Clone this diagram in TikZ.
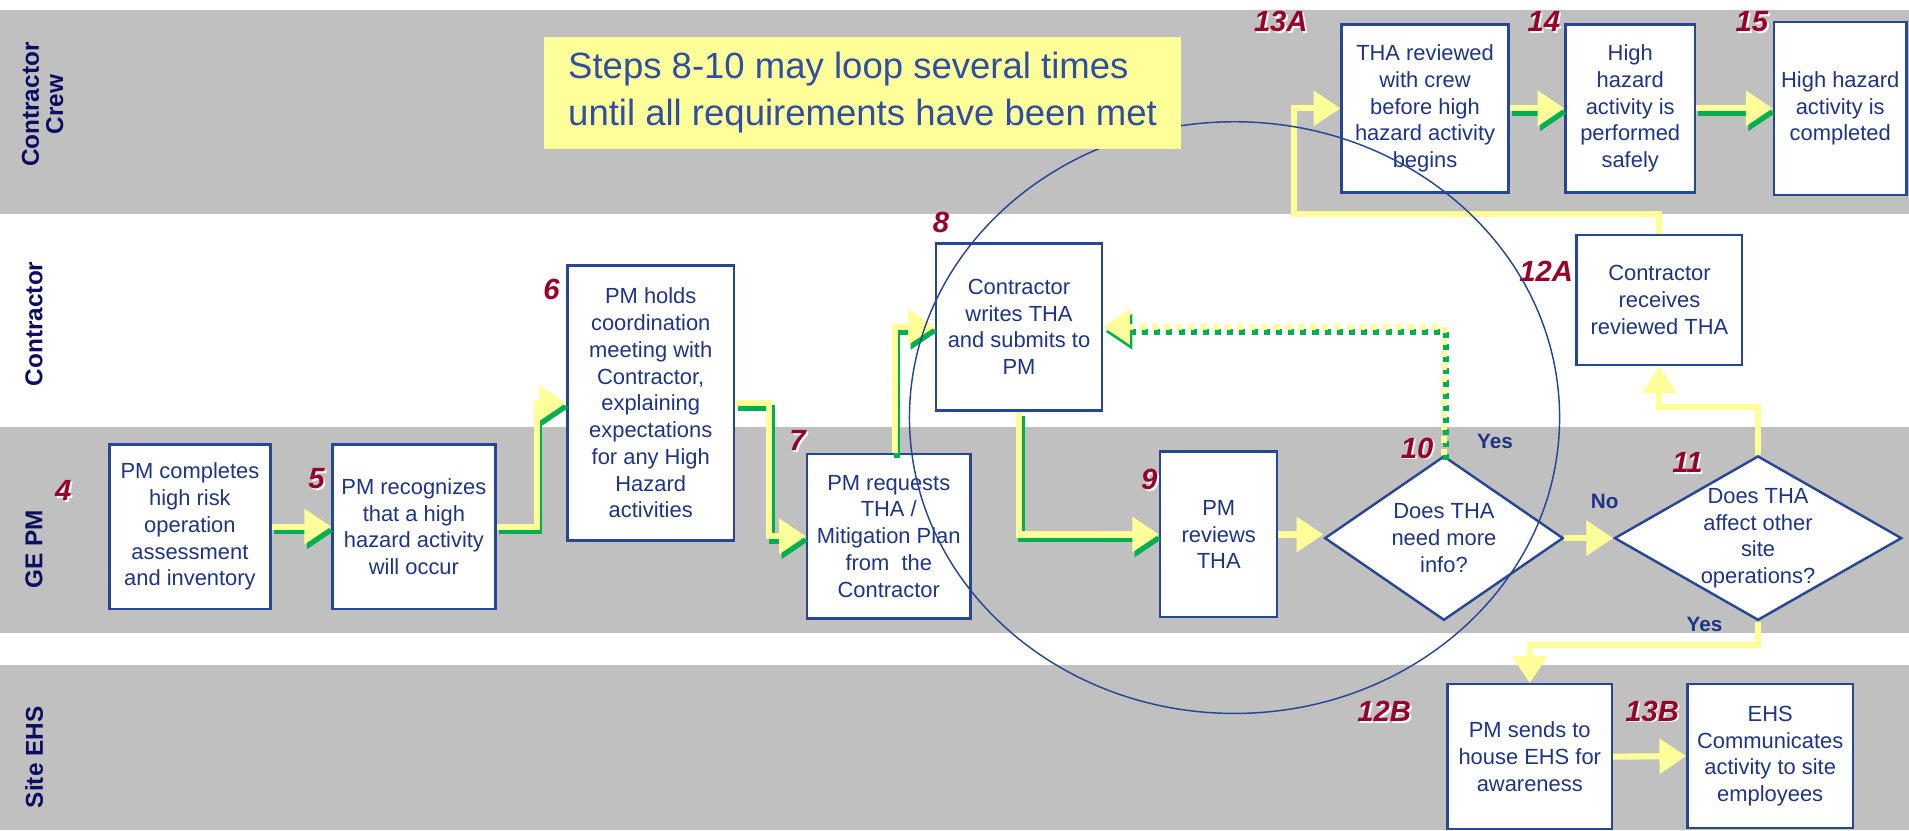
\documentclass[tikz,border=0pt]{standalone}
\usepackage{fontspec}
\setmainfont{Liberation Sans}
\usetikzlibrary{arrows.meta}
\usetikzlibrary{shapes.geometric}
\definecolor{lanegray}{RGB}{192,192,192}
\definecolor{lanenavy}{RGB}{12,12,96}
\definecolor{boxblue}{RGB}{40,70,150}
\definecolor{textblue}{RGB}{30,52,135}
\definecolor{noteblue}{RGB}{48,78,165}
\definecolor{noteyellow}{RGB}{255,255,153}
\definecolor{flowyellow}{RGB}{255,255,153}
\definecolor{flowgreen}{RGB}{0,176,80}
\definecolor{stepred}{RGB}{153,0,40}
\tikzset{stepbox/.style = {draw=boxblue, line width=2pt, fill=white, text=textblue,
                           align=center, inner sep=1pt,
                           font=\fontsize{18}{22}\selectfont}}
\tikzset{askbox/.style = {diamond, draw=boxblue, line width=2pt, fill=white, text=textblue,
                          align=center, inner sep=-6pt, aspect=1.5,
                          font=\fontsize{18}{22}\selectfont}}
\tikzset{flow/.style = {draw=flowyellow, line width=5pt,
                        -{Triangle[length=22pt, width=28pt]}}}
\tikzset{flowshade/.style = {draw=flowgreen, line width=5pt,
                             -{Triangle[length=22pt, width=28pt]},
                             transform canvas={xshift=2pt, yshift=-4pt}}}
\tikzset{lanelabel/.style = {rotate=90, text=lanenavy, align=center,
                             font=\bfseries\fontsize{20}{20}\selectfont}}
\tikzset{stepno/.style = {text=stepred, font=\bfseries\itshape\fontsize{24}{24}\selectfont}}
\tikzset{stepshade/.style = {text=white, font=\bfseries\itshape\fontsize{24}{24}\selectfont}}
\tikzset{answer/.style = {text=textblue, font=\bfseries\fontsize{17}{17}\selectfont}}

\begin{document}
\begin{tikzpicture}[x=1pt, y=-1pt]
      \useasboundingbox (0,0) rectangle (1568,682);
      % lanes
      \fill [lanegray] (0,8) rectangle (1568,176);
      \fill [lanegray] (0,351) rectangle (1568,520);
      \fill [lanegray] (0,546) rectangle (1568,682);
      \node [lanelabel] (lcrew) at (35,86) {Contractor\\Crew};
      \node [lanelabel] (lcon) at (28,266) {Contractor};
      \node [lanelabel] (lpm) at (28,451) {GE PM};
      \node [lanelabel] (lehs) at (28,622) {Site EHS};
      % steps
      \node [stepbox, minimum width=132, minimum height=135] (s4) at (156,432.5)
            {PM completes\\high risk\\operation\\assessment\\and inventory};
      \node [stepbox, minimum width=134, minimum height=135] (s5) at (340,432.5)
            {PM recognizes\\that a high\\hazard activity\\will occur};
      \node [stepbox, minimum width=137, minimum height=226] (s6) at (534.5,331)
            {PM holds\\coordination\\meeting with\\Contractor,\\explaining\\expectations\\for any High\\Hazard\\activities};
      \node [stepbox, minimum width=134, minimum height=135] (s7) at (730,440.5)
            {PM requests\\THA /\\Mitigation Plan\\from~ the\\Contractor};
      \node [stepbox, minimum width=136, minimum height=137] (s8) at (837,268.5)
            {Contractor\\writes THA\\and submits to\\PM};
      \node [stepbox, minimum width=96, minimum height=136] (s9) at (1001,439)
            {PM\\reviews\\THA};
      \node [askbox, minimum width=196, minimum height=135] (q10) at (1186,442)
            {Does THA\\need more\\info?};
      \node [askbox, minimum width=236, minimum height=135] (q11) at (1444,442)
            {Does THA\\affect other\\site\\operations?};
      \node [stepbox, minimum width=136, minimum height=107] (s12a) at (1363,246.5)
            {Contractor\\receives\\reviewed THA};
      \node [stepbox, minimum width=137, minimum height=138] (s13a) at (1170.5,89)
            {THA reviewed\\with crew\\before high\\hazard activity\\begins};
      \node [stepbox, minimum width=106, minimum height=138] (s14) at (1339,89)
            {High\\hazard\\activity is\\performed\\safely};
      \node [stepbox, minimum width=109, minimum height=142] (s15) at (1511.5,89)
            {High hazard\\activity is\\completed};
      \node [stepbox, minimum width=135, minimum height=119] (s12b) at (1256.5,621.5)
            {PM sends to\\house EHS for\\awareness};
      \node [stepbox, minimum width=136, minimum height=118] (s13b) at (1454,621)
            {EHS\\Communicates\\activity to site\\employees};
      % step numbers
      \foreach \n/\x/\y in {4/52/403, 5/260/393, 6/453/238, 7/655/362, 8/773/183,
                            9/944/394, 10/1164/368, 11/1386/380, 12A/1270/223,
                            13A/1052/18, 14/1268/18, 15/1439/18, 12B/1137/584, 13B/1357/584} {
        \node [stepshade] at (\x+1.5,\y+1.5) {\n};
        \node [stepno] (n\n) at (\x,\y) {\n};
      }
      % answers
      \node [answer] (yes10) at (1228,363) {Yes};
      \node [answer] (no10) at (1318,412) {No};
      \node [answer] (yes11) at (1400,513) {Yes};
      % connectors
      \coordinate (c12) at (1063,176);
      \draw [flowshade] (s4.east) -- (s5.west);
      \draw [flow] (s4.east) -- (s5.west);
      \draw [flowshade] (s5.east) -- ++(33,0) |- (s6.west);
      \draw [flow] (s5.east) -- ++(33,0) |- (s6.west);
      \draw [flowshade] (s6.east) -- ++(28,0) |- (s7.west);
      \draw [flow] (s6.east) -- ++(28,0) |- (s7.west);
      \draw [flowshade] ([xshift=5pt]s7.north) |- (s8.west);
      \draw [flow] ([xshift=5pt]s7.north) |- (s8.west);
      \draw [flowshade] (s8.south) |- (s9.west);
      \draw [flow] (s8.south) |- (s9.west);
      \draw [flow] (s9.east) -- (s9.east -| q10.west);
      \draw [flowshade, dash pattern=on 5pt off 5pt] (q10.north) |- (s8.east);
      \draw [flow, dash pattern=on 5pt off 5pt] (q10.north) |- (s8.east);
      \draw [flow] (q10.east) -- (q11.west);
      \draw [flow] (q11.north) -- ++(0,-39) -| (s12a.south);
      \draw [flow] (s12a.north) |- (c12) |- (s13a.west);
      \draw [flowshade] (s13a.east) -- (s14.west);
      \draw [flow] (s13a.east) -- (s14.west);
      \draw [flowshade] (s14.east) -- (s15.west);
      \draw [flow] (s14.east) -- (s15.west);
      \draw [flow] (q11.south) -- ++(0,19) -| (s12b.north);
      \draw [flow] (s12b.east) -- (s13b.west);
      % loop
      \draw [boxblue, line width=1.2pt] (1014,343) ellipse [x radius=267, y radius=243];
      % note
      \node [fill=noteyellow, text=noteblue, align=left, minimum width=523, minimum height=92,
             font=\fontsize{30}{38}\selectfont] (note) at (708.5,76)
            {Steps 8-10 may loop several times\\until all requirements have been met};
\end{tikzpicture}
\end{document}
